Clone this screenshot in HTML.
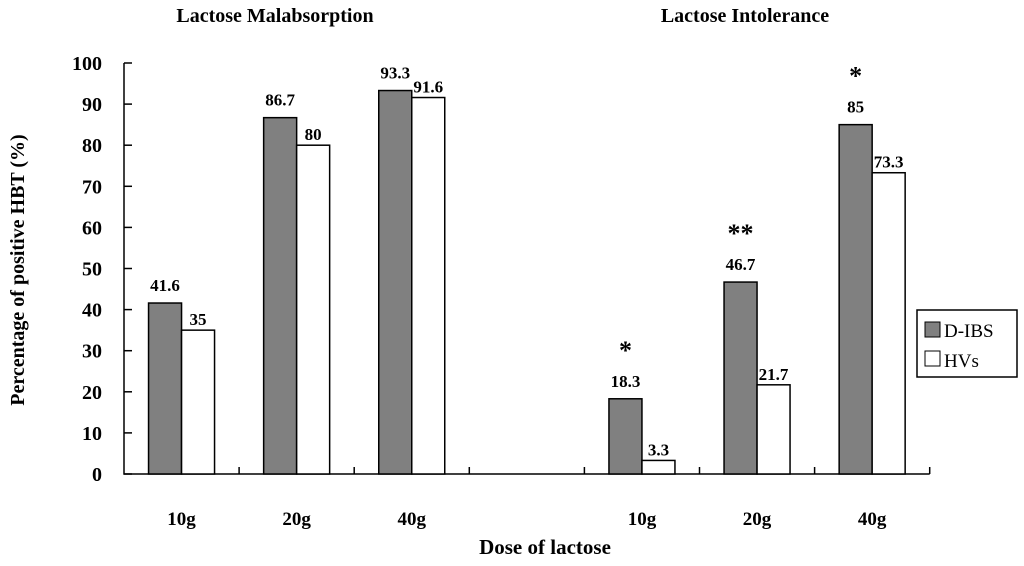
<!DOCTYPE html>
<html><head><meta charset="utf-8"><style>
body{margin:0;background:#fff;}
text{font-family:"Liberation Serif",serif;font-weight:bold;fill:#000;}
</style></head><body>
<svg width="1024" height="561" viewBox="0 0 1024 561">
<g id="plot"></g>
<text x="275" y="22" font-size="20" text-anchor="middle">Lactose Malabsorption</text>
<text x="745" y="22" font-size="20" text-anchor="middle">Lactose Intolerance</text>
<text x="545" y="554" font-size="21" text-anchor="middle">Dose of lactose</text>
<text transform="translate(24,270) rotate(-90)" font-size="20" text-anchor="middle">Percentage of positive HBT (%)</text>
<g>
<rect x="917" y="310" width="100" height="67" fill="#fff" stroke="#000" stroke-width="1.5"/>
<rect x="925" y="322" width="15" height="15" fill="#808080" stroke="#000"/>
<text x="944" y="337" font-size="19" style="font-weight:normal">D-IBS</text>
<rect x="925" y="351" width="15" height="15" fill="#fff" stroke="#000"/>
<text x="944" y="367" font-size="19" style="font-weight:normal">HVs</text>
</g>
</svg>
<script>
const categories=["10g","20g","40g","","10g","20g","40g"];
const dibs=[41.6,86.7,93.3,null,18.3,46.7,85];
const hvs=[35,80,91.6,null,3.3,21.7,73.3];
const dibsLabels=["41.6","86.7","93.3","","18.3","46.7","85"];
const hvsLabels=["35","80","91.6","","3.3","21.7","73.3"];
const stars=["","","","","*","**","*"];
const yTicks=[0,10,20,30,40,50,60,70,80,90,100];
const NS="http://www.w3.org/2000/svg";
const g=document.getElementById('plot');
const x0=124,cw=115.1,y0=474,yTop=63;
const y=v=>y0-(v/100)*(y0-yTop);
const xc=i=>x0+cw*(i+0.5);
function mk(t,a,txt){const e=document.createElementNS(NS,t);for(const k in a)e.setAttribute(k,a[k]);if(txt!==undefined)e.textContent=txt;g.appendChild(e);return e;}
const ax=mk('path',{d:`M${x0} ${yTop}V${y0}H${x0+cw*7}`,fill:'none',stroke:'#000','stroke-width':1.5});


yTicks.forEach(v=>{
 mk('line',{x1:x0,x2:x0+8,y1:y(v),y2:y(v),stroke:'#000','stroke-width':1.5});
 const t=mk('text',{x:102,y:y(v)+7,'font-size':20,'text-anchor':'end'},v);
 
 
});
for(let i=1;i<=7;i++)mk('line',{x1:x0+cw*i,x2:x0+cw*i,y1:y0,y2:y0-7,stroke:'#000','stroke-width':1.5});
const bw=33;
categories.forEach((c,i)=>{
 if(c){const t=mk('text',{x:xc(i),y:525,'font-size':19,'text-anchor':'middle'},c);
 
 }
 if(dibs[i]!=null){
  const b=mk('rect',{x:xc(i)-bw,y:y(dibs[i]),width:bw,height:y0-y(dibs[i]),fill:'#808080',stroke:'#000','stroke-width':1.5});
  
  
  const l=mk('text',{x:xc(i)-bw/2,y:y(dibs[i])-12,'font-size':17,'text-anchor':'middle'},dibsLabels[i]);
  
  
 }
 if(hvs[i]!=null){
  const b=mk('rect',{x:xc(i),y:y(hvs[i]),width:bw,height:y0-y(hvs[i]),fill:'#fff',stroke:'#000','stroke-width':1.5});
  
  
  const l=mk('text',{x:xc(i)+bw/2,y:y(hvs[i])-5,'font-size':17,'text-anchor':'middle'},hvsLabels[i]);
  
  
 }
 if(stars[i]){
  const s=mk('text',{x:xc(i)-bw/2,y:y(dibs[i])-40,'font-size':26,'text-anchor':'middle'},stars[i]);
  
  
 }
});
</script>
</body></html>
